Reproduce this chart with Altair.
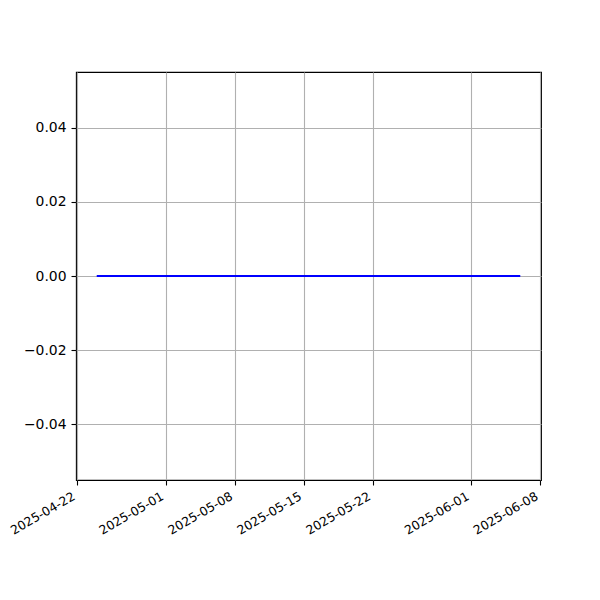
import altair as alt
import pandas as pd

dates = [
    "2025-04-24", "2025-04-25", "2025-04-26", "2025-04-27", "2025-04-28", "2025-04-29", "2025-04-30",
    "2025-05-01", "2025-05-02", "2025-05-03", "2025-05-04", "2025-05-05", "2025-05-06", "2025-05-07",
    "2025-05-08", "2025-05-09", "2025-05-10", "2025-05-11", "2025-05-12", "2025-05-13", "2025-05-14",
    "2025-05-15", "2025-05-16", "2025-05-17", "2025-05-18", "2025-05-19", "2025-05-20", "2025-05-21",
    "2025-05-22", "2025-05-23", "2025-05-24", "2025-05-25", "2025-05-26", "2025-05-27", "2025-05-28",
    "2025-05-29", "2025-05-30", "2025-05-31", "2025-06-01", "2025-06-02", "2025-06-03", "2025-06-04",
    "2025-06-05", "2025-06-06",
]
values = [0.0] * len(dates)

x_ticks = [(2025, 4, 22), (2025, 5, 1), (2025, 5, 8), (2025, 5, 15), (2025, 5, 22), (2025, 6, 1), (2025, 6, 8)]
y_ticks = [-0.04, -0.02, 0.0, 0.02, 0.04]

df = pd.DataFrame({"date": dates, "value": values})

font = "DejaVu Sans"

x_axis = alt.Axis(
    values=[alt.DateTime(year=y, month=m, date=d, utc=True) for (y, m, d) in x_ticks],
    labelExpr="utcFormat(datum.value, '%Y-%m-%d')",
    labelAngle=-30, labelAlign="right", labelBaseline="bottom",
    labelFont=font, labelFontSize=12.4, labelColor="black", labelPadding=16,
    tickSize=5, tickColor="black", tickWidth=1.1,
    domain=False, title=None,
    grid=True, gridColor="#b0b0b0", gridWidth=1.1,
    labelOverlap=False, labelFlush=False,
)
y_axis = alt.Axis(
    values=y_ticks, format=".2f",
    labelFont=font, labelFontSize=13.9, labelColor="black", labelPadding=5,
    tickSize=5, tickColor="black", tickWidth=1.1,
    domain=False, title=None,
    grid=True, gridColor="#b0b0b0", gridWidth=1.1,
    labelOverlap=False, labelFlush=False,
)

chart = alt.Chart(df).mark_line(color="blue", strokeWidth=2).encode(
    x=alt.X("date:T", axis=x_axis,
            scale=alt.Scale(type="utc",
                            domain=[alt.DateTime(year=2025, month=4, date=21, hours=21, minutes=30, utc=True),
                                    alt.DateTime(year=2025, month=6, date=8, hours=2, minutes=30, utc=True)])),
    y=alt.Y("value:Q", axis=y_axis, scale=alt.Scale(domain=[-0.055, 0.055], nice=False, zero=False)),
).properties(
    width=465, height=408,
    autosize=alt.AutoSizeParams(type="none"),
    padding={"left": 68, "top": 64, "right": 51, "bottom": 112},
).configure_view(stroke="black", strokeWidth=1.1)

chart.save("out.html", embed_options={"renderer": "svg", "actions": False})
